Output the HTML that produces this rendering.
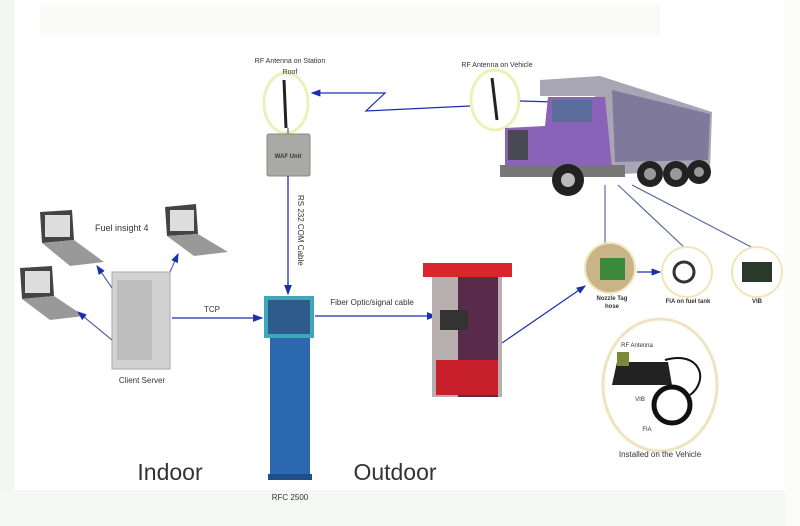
<!DOCTYPE html>
<html><head><meta charset="utf-8"><style>
html,body{margin:0;padding:0;background:#fff}
svg{display:block}
text{font-family:"Liberation Sans",sans-serif;fill:#333}
</style></head><body>
<svg width="800" height="526" viewBox="0 0 800 526" xmlns="http://www.w3.org/2000/svg">
<defs>
<marker id="a" markerWidth="8" markerHeight="8" refX="7" refY="4" orient="auto"><path d="M0,1 L8,4 L0,7 z" fill="#1a2fb0"/></marker>
</defs>
<rect width="800" height="526" fill="#fff"/>
<rect x="0" y="0" width="14" height="526" fill="#f3f7f1"/>
<rect x="0" y="490" width="800" height="36" fill="#f4f8f2"/>
<rect x="785" y="0" width="15" height="526" fill="#fbfcfa"/>
<rect x="40" y="5" width="620" height="30" fill="#fafbf9"/>

<!-- station antenna -->
<ellipse cx="286" cy="103" rx="22" ry="30" fill="none" stroke="#eef0b8" stroke-width="3"/>
<line x1="284" y1="80" x2="286" y2="128" stroke="#222" stroke-width="3"/>
<line x1="288" y1="128" x2="288" y2="134" stroke="#444" stroke-width="1"/>
<text x="290" y="63" font-size="7" text-anchor="middle">RF Antenna on Station</text>
<text x="290" y="74" font-size="7" text-anchor="middle">Roof</text>
<!-- WAF -->
<rect x="267" y="134" width="43" height="42" rx="2" fill="#a9aaa6" stroke="#888"/>
<text x="288" y="158" font-size="6" font-weight="bold" text-anchor="middle" fill="#fff">WAF Unit</text>
<line x1="288" y1="176" x2="288" y2="294" stroke="#1a2fb0" stroke-width="1.3" marker-end="url(#a)"/>
<text transform="translate(298,195) rotate(90)" font-size="8">RS 232 COM Cable</text>

<!-- zigzag -->
<polyline points="470,106 366,111 385,93 312,93" fill="none" stroke="#1a2fb0" stroke-width="1.2" marker-end="url(#a)"/>
<ellipse cx="495" cy="100" rx="24" ry="30" fill="none" stroke="#eef0b8" stroke-width="3"/>
<line x1="492" y1="78" x2="497" y2="120" stroke="#222" stroke-width="3"/>
<text x="497" y="67" font-size="7" text-anchor="middle">RF Antenna on Vehicle</text>
<line x1="520" y1="101" x2="590" y2="103" stroke="#1a2fb0" stroke-width="1.2" marker-end="url(#a)"/>

<!-- truck -->
<polygon points="540,80 600,76 712,112 710,170 600,175 595,96 540,96" fill="#a8a6b4"/>
<polygon points="612,90 710,114 708,160 615,162" fill="#7f7a9c"/>
<polygon points="548,97 605,97 612,168 505,168 505,128 545,126" fill="#8a62b8"/>
<rect x="552" y="100" width="40" height="22" fill="#5a6d9a"/>
<rect x="508" y="130" width="20" height="30" fill="#4a4a55"/>
<rect x="500" y="165" width="125" height="12" fill="#777"/>
<circle cx="568" cy="180" r="16" fill="#222"/><circle cx="568" cy="180" r="7" fill="#bbb"/>
<circle cx="650" cy="174" r="13" fill="#222"/><circle cx="650" cy="174" r="6" fill="#999"/>
<circle cx="676" cy="174" r="13" fill="#222"/><circle cx="676" cy="174" r="6" fill="#999"/>
<circle cx="699" cy="172" r="12" fill="#222"/><circle cx="699" cy="172" r="5" fill="#999"/>

<!-- lines from truck -->
<line x1="605" y1="185" x2="605" y2="246" stroke="#5b6aa0" stroke-width="1.2"/>
<line x1="618" y1="185" x2="686" y2="249" stroke="#5b6aa0" stroke-width="1.2"/>
<line x1="632" y1="185" x2="757" y2="250" stroke="#5b6aa0" stroke-width="1.2"/>

<!-- small circles -->
<circle cx="610" cy="268" r="25" fill="#c9b48a" stroke="#f1e6b8" stroke-width="2"/>
<rect x="600" y="258" width="25" height="22" fill="#3a8a3a"/>
<line x1="637" y1="272" x2="660" y2="272" stroke="#1a2fb0" stroke-width="1.2" marker-end="url(#a)"/>
<circle cx="687" cy="272" r="25" fill="#fff" stroke="#f1e6b8" stroke-width="2"/>
<circle cx="684" cy="272" r="10" fill="none" stroke="#333" stroke-width="3"/>
<circle cx="757" cy="272" r="25" fill="#fff" stroke="#f1e6b8" stroke-width="2"/>
<rect x="742" y="262" width="30" height="20" fill="#2a3a2a"/>
<text x="612" y="300" font-size="6" font-weight="bold" text-anchor="middle">Nozzle Tag</text>
<text x="612" y="308" font-size="6" font-weight="bold" text-anchor="middle">hose</text>
<text x="688" y="303" font-size="6" font-weight="bold" text-anchor="middle">FIA on fuel tank</text>
<text x="757" y="303" font-size="6" font-weight="bold" text-anchor="middle">VIB</text>

<!-- installed circle -->
<ellipse cx="660" cy="385" rx="57" ry="66" fill="#fff" stroke="#efe4bf" stroke-width="3"/>
<polygon points="617,362 668,362 672,385 612,385" fill="#222"/>
<rect x="617" y="352" width="12" height="14" fill="#7a8a3a"/>
<circle cx="672" cy="405" r="18" fill="none" stroke="#111" stroke-width="5"/>
<path d="M665,360 C700,350 710,380 690,395" fill="none" stroke="#111" stroke-width="2"/>
<text x="637" y="347" font-size="6" text-anchor="middle">RF Antenna</text>
<text x="640" y="401" font-size="6" text-anchor="middle">VIB</text>
<text x="647" y="431" font-size="6" text-anchor="middle">FIA</text>
<text x="660" y="457" font-size="8" text-anchor="middle">Installed on the Vehicle</text>

<!-- laptops -->
<polygon points="40,212 72,210 74,240 42,243" fill="#444"/><rect x="45" y="215" width="25" height="22" fill="#ddd"/>
<polygon points="42,243 74,240 104,262 70,266" fill="#999"/>
<polygon points="165,207 196,204 198,234 167,236" fill="#444"/><rect x="170" y="210" width="24" height="21" fill="#ddd"/>
<polygon points="167,236 198,234 228,252 194,256" fill="#999"/>
<polygon points="20,268 52,266 54,296 22,299" fill="#444"/><rect x="25" y="271" width="25" height="22" fill="#ddd"/>
<polygon points="22,299 54,296 84,316 50,320" fill="#999"/>
<text x="95" y="231" font-size="9">Fuel insight 4</text>
<!-- server -->
<rect x="112" y="272" width="58" height="97" fill="#d2d2d2" stroke="#aaa"/>
<rect x="117" y="280" width="35" height="80" fill="#bdbdbd"/>
<text x="142" y="383" font-size="8" text-anchor="middle">Client Server</text>
<line x1="112" y1="288" x2="97" y2="266" stroke="#5b6aa0" stroke-width="1.2" marker-end="url(#a)"/>
<line x1="170" y1="272" x2="178" y2="254" stroke="#5b6aa0" stroke-width="1.2" marker-end="url(#a)"/>
<line x1="112" y1="340" x2="78" y2="312" stroke="#5b6aa0" stroke-width="1.2" marker-end="url(#a)"/>
<line x1="172" y1="318" x2="262" y2="318" stroke="#1a2fb0" stroke-width="1.3" marker-end="url(#a)"/>
<text x="212" y="312" font-size="8" text-anchor="middle">TCP</text>

<!-- RFC -->
<rect x="264" y="296" width="50" height="42" fill="#3fa8b8"/>
<rect x="268" y="300" width="42" height="34" fill="#2d5c8c"/>
<rect x="270" y="338" width="40" height="136" fill="#2b68b0"/>
<rect x="268" y="474" width="44" height="6" fill="#1f4f8a"/>
<text x="290" y="500" font-size="8" text-anchor="middle">RFC 2500</text>
<line x1="315" y1="316" x2="436" y2="316" stroke="#1a2fb0" stroke-width="1.3" marker-end="url(#a)"/>
<text x="372" y="305" font-size="8" text-anchor="middle">Fiber Optic/signal cable</text>

<!-- pump -->
<rect x="423" y="263" width="89" height="14" fill="#d9262c"/>
<rect x="432" y="277" width="70" height="120" fill="#b8b0b0"/>
<rect x="458" y="277" width="40" height="120" fill="#5a2a4a"/>
<rect x="436" y="360" width="62" height="35" fill="#c8202a"/>
<rect x="440" y="310" width="28" height="20" fill="#333"/>
<line x1="502" y1="343" x2="585" y2="286" stroke="#1a2fb0" stroke-width="1.2" marker-end="url(#a)"/>

<text x="170" y="480" font-size="23" text-anchor="middle" fill="#222">Indoor</text>
<text x="395" y="480" font-size="23" text-anchor="middle" fill="#222">Outdoor</text>
</svg>
</body></html>
